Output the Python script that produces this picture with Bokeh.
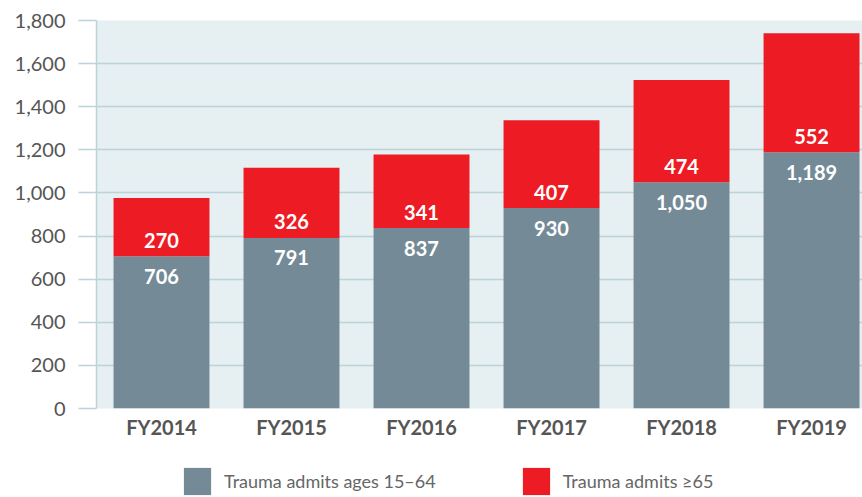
from bokeh.plotting import figure
from bokeh.layouts import column
from bokeh.models import Range1d, FixedTicker, NumeralTickFormatter, Legend, LegendItem
from bokeh.core.properties import value
from bokeh.embed import file_html
from bokeh.resources import INLINE

years = ["FY2014", "FY2015", "FY2016", "FY2017", "FY2018", "FY2019"]
ages_15_64 = [706, 791, 837, 930, 1050, 1189]
ages_65_plus = [270, 326, 341, 407, 474, 552]
y_ticks = [0, 200, 400, 600, 800, 1000, 1200, 1400, 1600, 1800]
series_names = ["Trauma admits ages 15–64", "Trauma admits ≥65"]

GREY = "#748b97"
RED = "#ed1c24"
GRID = "#bdd3da"
TXT = "#555555"

xs = [i + 0.5 for i in range(len(years))]
totals = [a + b for a, b in zip(ages_15_64, ages_65_plus)]

p = figure(width=862, height=461, x_range=Range1d(0, 5.892), y_range=Range1d(0, 1800),
           output_backend="svg", toolbar_location=None,
           min_border_left=96, min_border_top=20, min_border_right=0, min_border_bottom=53)
p.background_fill_color = "#e6eff1"
p.border_fill_color = "white"
p.outline_line_color = None

r1 = p.vbar(x=xs, bottom=0, top=ages_15_64, width=0.738, fill_color=GREY, line_color=None)
r2 = p.vbar(x=xs, bottom=ages_15_64, top=totals, width=0.738, fill_color=RED, line_color=None)

p.text(x=xs, y=ages_15_64, text=[f"{v:,}" for v in ages_15_64], y_offset=20,
       text_align="center", text_baseline="middle", text_color="white",
       text_font=value("Lato"), text_font_style="bold", text_font_size="20px")
p.text(x=xs, y=ages_15_64, text=[f"{v:,}" for v in ages_65_plus], y_offset=-16,
       text_align="center", text_baseline="middle", text_color="white",
       text_font=value("Lato"), text_font_style="bold", text_font_size="20px")

p.xgrid.grid_line_color = None
p.ygrid.grid_line_color = GRID
p.ygrid.grid_line_width = 1.5
p.ygrid.ticker = FixedTicker(ticks=y_ticks)

yax = p.yaxis[0]
yax.ticker = FixedTicker(ticks=y_ticks)
yax.formatter = NumeralTickFormatter(format="0,0")
yax.axis_line_color = GRID
yax.axis_line_width = 1.5
yax.major_tick_line_color = GRID
yax.major_tick_line_width = 1.5
yax.major_tick_out = 18
yax.major_tick_in = 0
yax.minor_tick_line_color = None
yax.major_label_standoff = 13
yax.major_label_text_font = "Lato"
yax.major_label_text_font_size = "20px"
yax.major_label_text_color = TXT

xax = p.xaxis[0]
xax.ticker = FixedTicker(ticks=xs)
xax.major_label_overrides = {x: y for x, y in zip(xs, years)}
xax.axis_line_color = None
xax.major_tick_line_color = None
xax.minor_tick_line_color = None
xax.major_label_standoff = 0
xax.major_label_text_font = "Lato"
xax.major_label_text_font_style = "bold"
xax.major_label_text_font_size = "20px"
xax.major_label_text_color = TXT

# legend strip below the chart (swatch renderers share the data but are not drawn)
lg = figure(width=862, height=36, x_range=Range1d(0, 5.892), y_range=Range1d(0, 1800),
            x_axis_type=None, y_axis_type=None,
            output_backend="svg", toolbar_location=None,
            min_border_left=0, min_border_right=0, min_border_top=0, min_border_bottom=0)
lg.grid.visible = False
lg.outline_line_color = None
lg.background_fill_color = "white"
lg.border_fill_color = "white"
d1 = lg.vbar(x=xs, top=ages_15_64, width=0.738, fill_color=GREY, line_color=None)
d2 = lg.vbar(x=xs, bottom=ages_15_64, top=totals, width=0.738, fill_color=RED, line_color=None)
d1.visible = False
d2.visible = False
legend = Legend(items=[LegendItem(label=series_names[0], renderers=[d1]),
                       LegendItem(label=series_names[1], renderers=[d2])],
                orientation="horizontal", location=(84, -1),
                glyph_width=34, glyph_height=34, label_standoff=10, spacing=83,
                padding=0, margin=0, border_line_color=None, background_fill_alpha=0,
                label_text_font="Lato", label_text_font_size="18px", label_text_color="#666666",
                label_height=27)
lg.add_layout(legend, "center")

layout = column(p, lg, spacing=0)
open("out.html", "w").write(file_html(layout, INLINE))
